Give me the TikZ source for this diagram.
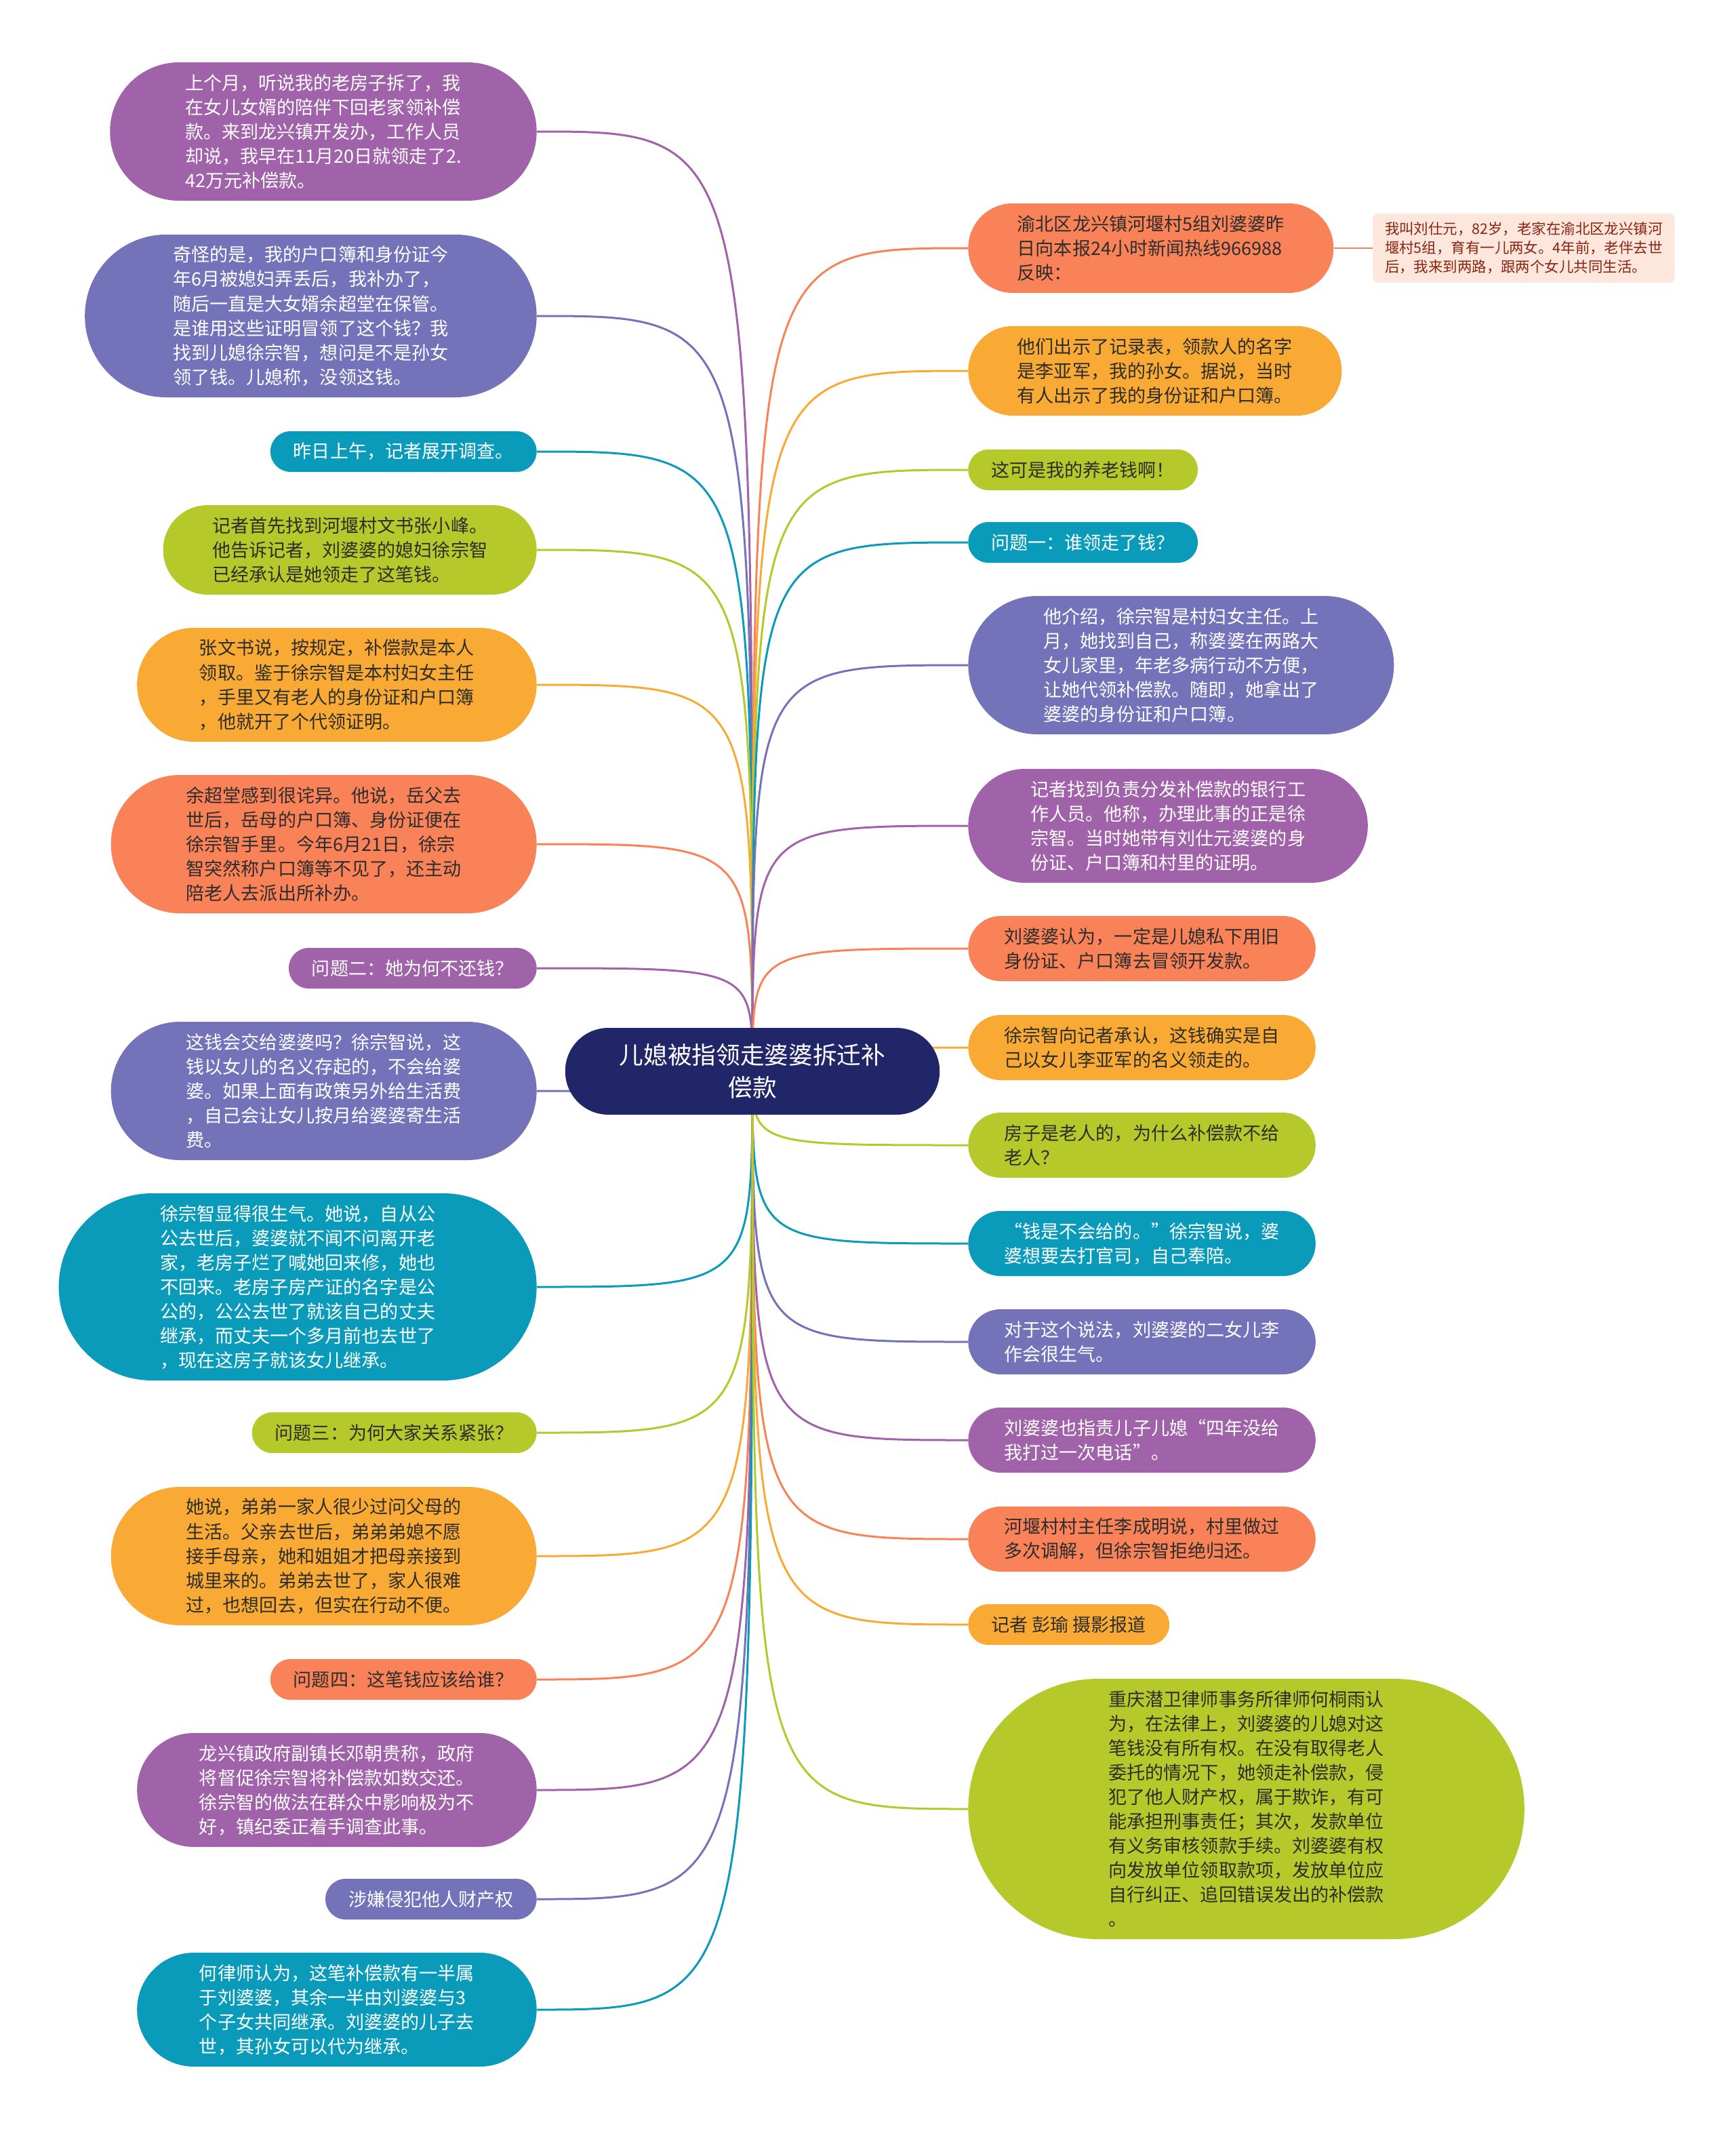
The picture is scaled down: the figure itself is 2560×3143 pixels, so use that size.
\documentclass[tikz,border=0pt]{standalone}
\usepackage{fontspec}
\setmainfont{Noto Sans CJK SC}
\usetikzlibrary{backgrounds}

\definecolor{mmPurple}{HTML}{A062A8}
\definecolor{mmIndigo}{HTML}{7473B9}
\definecolor{mmTeal}{HTML}{0B9BBA}
\definecolor{mmGreen}{HTML}{B5C92B}
\definecolor{mmAmber}{HTML}{F9AA35}
\definecolor{mmCoral}{HTML}{F98258}
\definecolor{mmNavy}{HTML}{202668}
\definecolor{mmNote}{HTML}{FDE6DC}
\definecolor{mmNoteText}{HTML}{8B2311}
\definecolor{mmDark}{HTML}{2D2D2D}

\begin{document}
\begin{tikzpicture}[
    x=0.2mm, y=-0.2mm,
    topic/.style={
        fill=mmNavy,
        text=white,
        align=center,
        minimum height=25.6mm,
        rounded corners=12.75mm,
        inner xsep=16mm,
        inner ysep=3mm,
        font=\fontsize{20.3pt}{27.3pt}\selectfont
    },
    % stadium shaped box, height set by the number of text lines
    nlines/.code={
        \pgfmathsetlengthmacro\bubh{(#1-1)*7.2mm+12mm}
        \pgfmathsetlengthmacro\bubr{(#1-1)*3.6mm+5.95mm}
        \pgfmathsetlengthmacro\bubx{(#1-1)*3.85mm+6.8mm}
        \edef\bubkeys{\noexpand\pgfkeysalso{minimum height=\bubh, rounded corners=\bubr, inner xsep=\bubx}}
        \bubkeys
    },
    bubble/.style={
        nlines=#1,
        inner ysep=3mm,
        align=left,
        font=\fontsize{15.4pt}{20.5pt}\selectfont
    },
    left_node/.style={bubble=#1, anchor=east},
    right_node/.style={bubble=#1, anchor=west},
    purple_fill/.style={fill=mmPurple, text=white},
    indigo_fill/.style={fill=mmIndigo, text=white},
    teal_fill/.style={fill=mmTeal, text=white},
    green_fill/.style={fill=mmGreen, text=mmDark},
    amber_fill/.style={fill=mmAmber, text=mmDark},
    coral_fill/.style={fill=mmCoral, text=mmDark},
    note/.style={
        fill=mmNote,
        text=mmNoteText,
        rounded corners=1.6mm,
        align=left,
        minimum width=89mm,
        inner xsep=1.6mm,
        inner ysep=2.6mm,
        font=\fontsize{12.2pt}{15.9pt}\selectfont
    },
    link/.style={line width=0.6mm}
]

    \useasboundingbox (0,0) rectangle (2560,3143);

    % Central topic
    \node[topic] (ctr) at (1110,1580) {儿媳被指领走婆婆拆迁补\\偿款};

    % Left branch
    \node[left_node=5, purple_fill] (L1) at (792,194) {上个月，听说我的老房子拆了，我\\在女儿女婿的陪伴下回老家领补偿\\款。来到龙兴镇开发办，工作人员\\却说，我早在11月20日就领走了2.\\42万元补偿款。};
    \node[left_node=6, indigo_fill] (L2) at (792,466) {奇怪的是，我的户口簿和身份证今\\年6月被媳妇弄丢后，我补办了，\\随后一直是大女婿余超堂在保管。\\是谁用这些证明冒领了这个钱？我\\找到儿媳徐宗智，想问是不是孙女\\领了钱。儿媳称，没领这钱。};
    \node[left_node=1, teal_fill] (L3) at (792,666) {昨日上午，记者展开调查。};
    \node[left_node=3, green_fill] (L4) at (792,811) {记者首先找到河堰村文书张小峰。\\他告诉记者，刘婆婆的媳妇徐宗智\\已经承认是她领走了这笔钱。};
    \node[left_node=4, amber_fill] (L5) at (792,1010) {张文书说，按规定，补偿款是本人\\领取。鉴于徐宗智是本村妇女主任\\，手里又有老人的身份证和户口簿\\，他就开了个代领证明。};
    \node[left_node=5, coral_fill] (L6) at (792,1245) {余超堂感到很诧异。他说，岳父去\\世后，岳母的户口簿、身份证便在\\徐宗智手里。今年6月21日，徐宗\\智突然称户口簿等不见了，还主动\\陪老人去派出所补办。};
    \node[left_node=1, purple_fill] (L7) at (792,1428) {问题二：她为何不还钱？};
    \node[left_node=5, indigo_fill] (L8) at (792,1609) {这钱会交给婆婆吗？徐宗智说，这\\钱以女儿的名义存起的，不会给婆\\婆。如果上面有政策另外给生活费\\，自己会让女儿按月给婆婆寄生活\\费。};
    \node[left_node=7, teal_fill] (L9) at (792,1898) {徐宗智显得很生气。她说，自从公\\公去世后，婆婆就不闻不问离开老\\家，老房子烂了喊她回来修，她也\\不回来。老房子房产证的名字是公\\公的，公公去世了就该自己的丈夫\\继承，而丈夫一个多月前也去世了\\，现在这房子就该女儿继承。};
    \node[left_node=1, green_fill] (L10) at (792,2113) {问题三：为何大家关系紧张？};
    \node[left_node=5, amber_fill] (L11) at (792,2295) {她说，弟弟一家人很少过问父母的\\生活。父亲去世后，弟弟弟媳不愿\\接手母亲，她和姐姐才把母亲接到\\城里来的。弟弟去世了，家人很难\\过，也想回去，但实在行动不便。};
    \node[left_node=1, coral_fill] (L12) at (792,2477) {问题四：这笔钱应该给谁？};
    \node[left_node=4, purple_fill] (L13) at (792,2640) {龙兴镇政府副镇长邓朝贵称，政府\\将督促徐宗智将补偿款如数交还。\\徐宗智的做法在群众中影响极为不\\好，镇纪委正着手调查此事。};
    \node[left_node=1, indigo_fill] (L14) at (792,2801) {涉嫌侵犯他人财产权};
    \node[left_node=4, teal_fill] (L15) at (792,2964) {何律师认为，这笔补偿款有一半属\\于刘婆婆，其余一半由刘婆婆与3\\个子女共同继承。刘婆婆的儿子去\\世，其孙女可以代为继承。};

    % Right branch
    \node[right_node=3, coral_fill] (R1) at (1428,366) {渝北区龙兴镇河堰村5组刘婆婆昨\\日向本报24小时新闻热线966988\\反映：};
    \node[note, anchor=west] (note) at (2025,366) {我叫刘仕元，82岁，老家在渝北区龙兴镇河\\堰村5组，育有一儿两女。4年前，老伴去世\\后，我来到两路，跟两个女儿共同生活。};
    \node[right_node=3, amber_fill] (R2) at (1428,547) {他们出示了记录表，领款人的名字\\是李亚军，我的孙女。据说，当时\\有人出示了我的身份证和户口簿。};
    \node[right_node=1, green_fill] (R3) at (1428,693) {这可是我的养老钱啊！};
    \node[right_node=1, teal_fill] (R4) at (1428,800) {问题一：谁领走了钱？};
    \node[right_node=5, indigo_fill] (R5) at (1428,981) {他介绍，徐宗智是村妇女主任。上\\月，她找到自己，称婆婆在两路大\\女儿家里，年老多病行动不方便，\\让她代领补偿款。随即，她拿出了\\婆婆的身份证和户口簿。};
    \node[right_node=4, purple_fill] (R6) at (1428,1218) {记者找到负责分发补偿款的银行工\\作人员。他称，办理此事的正是徐\\宗智。当时她带有刘仕元婆婆的身\\份证、户口簿和村里的证明。};
    \node[right_node=2, coral_fill] (R7) at (1428,1399) {刘婆婆认为，一定是儿媳私下用旧\\身份证、户口簿去冒领开发款。};
    \node[right_node=2, amber_fill] (R8) at (1428,1545) {徐宗智向记者承认，这钱确实是自\\己以女儿李亚军的名义领走的。};
    \node[right_node=2, green_fill] (R9) at (1428,1689) {房子是老人的，为什么补偿款不给\\老人？};
    \node[right_node=2, teal_fill] (R10) at (1428,1834) {“钱是不会给的。”徐宗智说，婆\\婆想要去打官司，自己奉陪。};
    \node[right_node=2, indigo_fill] (R11) at (1428,1979) {对于这个说法，刘婆婆的二女儿李\\作会很生气。};
    \node[right_node=2, purple_fill] (R12) at (1428,2124) {刘婆婆也指责儿子儿媳“四年没给\\我打过一次电话”。};
    \node[right_node=2, coral_fill] (R13) at (1428,2270) {河堰村村主任李成明说，村里做过\\多次调解，但徐宗智拒绝归还。};
    \node[right_node=1, amber_fill] (R14) at (1428,2396) {记者 彭瑜 摄影报道};
    \node[right_node=10, green_fill] (R15) at (1428,2668) {重庆潜卫律师事务所律师何桐雨认\\为，在法律上，刘婆婆的儿媳对这\\笔钱没有所有权。在没有取得老人\\委托的情况下，她领走补偿款，侵\\犯了他人财产权，属于欺诈，有可\\能承担刑事责任；其次，发款单位\\有义务审核领款手续。刘婆婆有权\\向发放单位领取款项，发放单位应\\自行纠正、追回错误发出的补偿款\\。};

    % Connectors
    \begin{scope}[on background layer]
        \draw[link, mmPurple] (ctr.center) .. controls (ctr.center |- L1.east) .. (L1.east);
        \draw[link, mmIndigo] (ctr.center) .. controls (ctr.center |- L2.east) .. (L2.east);
        \draw[link, mmTeal] (ctr.center) .. controls (ctr.center |- L3.east) .. (L3.east);
        \draw[link, mmGreen] (ctr.center) .. controls (ctr.center |- L4.east) .. (L4.east);
        \draw[link, mmAmber] (ctr.center) .. controls (ctr.center |- L5.east) .. (L5.east);
        \draw[link, mmCoral] (ctr.center) .. controls (ctr.center |- L6.east) .. (L6.east);
        \draw[link, mmPurple] (ctr.center) .. controls (ctr.center |- L7.east) .. (L7.east);
        \draw[link, mmIndigo] (ctr.center) .. controls (ctr.center |- L8.east) .. (L8.east);
        \draw[link, mmTeal] (ctr.center) .. controls (ctr.center |- L9.east) .. (L9.east);
        \draw[link, mmGreen] (ctr.center) .. controls (ctr.center |- L10.east) .. (L10.east);
        \draw[link, mmAmber] (ctr.center) .. controls (ctr.center |- L11.east) .. (L11.east);
        \draw[link, mmCoral] (ctr.center) .. controls (ctr.center |- L12.east) .. (L12.east);
        \draw[link, mmPurple] (ctr.center) .. controls (ctr.center |- L13.east) .. (L13.east);
        \draw[link, mmIndigo] (ctr.center) .. controls (ctr.center |- L14.east) .. (L14.east);
        \draw[link, mmTeal] (ctr.center) .. controls (ctr.center |- L15.east) .. (L15.east);

        \draw[link, mmCoral] (ctr.center) .. controls (ctr.center |- R1.west) .. (R1.west);
        \draw[link, mmAmber] (ctr.center) .. controls (ctr.center |- R2.west) .. (R2.west);
        \draw[link, mmGreen] (ctr.center) .. controls (ctr.center |- R3.west) .. (R3.west);
        \draw[link, mmTeal] (ctr.center) .. controls (ctr.center |- R4.west) .. (R4.west);
        \draw[link, mmIndigo] (ctr.center) .. controls (ctr.center |- R5.west) .. (R5.west);
        \draw[link, mmPurple] (ctr.center) .. controls (ctr.center |- R6.west) .. (R6.west);
        \draw[link, mmCoral] (ctr.center) .. controls (ctr.center |- R7.west) .. (R7.west);
        \draw[link, mmAmber] (ctr.center) .. controls (ctr.center |- R8.west) .. (R8.west);
        \draw[link, mmGreen] (ctr.center) .. controls (ctr.center |- R9.west) .. (R9.west);
        \draw[link, mmTeal] (ctr.center) .. controls (ctr.center |- R10.west) .. (R10.west);
        \draw[link, mmIndigo] (ctr.center) .. controls (ctr.center |- R11.west) .. (R11.west);
        \draw[link, mmPurple] (ctr.center) .. controls (ctr.center |- R12.west) .. (R12.west);
        \draw[link, mmCoral] (ctr.center) .. controls (ctr.center |- R13.west) .. (R13.west);
        \draw[link, mmAmber] (ctr.center) .. controls (ctr.center |- R14.west) .. (R14.west);
        \draw[link, mmGreen] (ctr.center) .. controls (ctr.center |- R15.west) .. (R15.west);

        \draw[line width=0.4mm, mmCoral] (R1.east) -- (note.west);
    \end{scope}

\end{tikzpicture}
\end{document}
